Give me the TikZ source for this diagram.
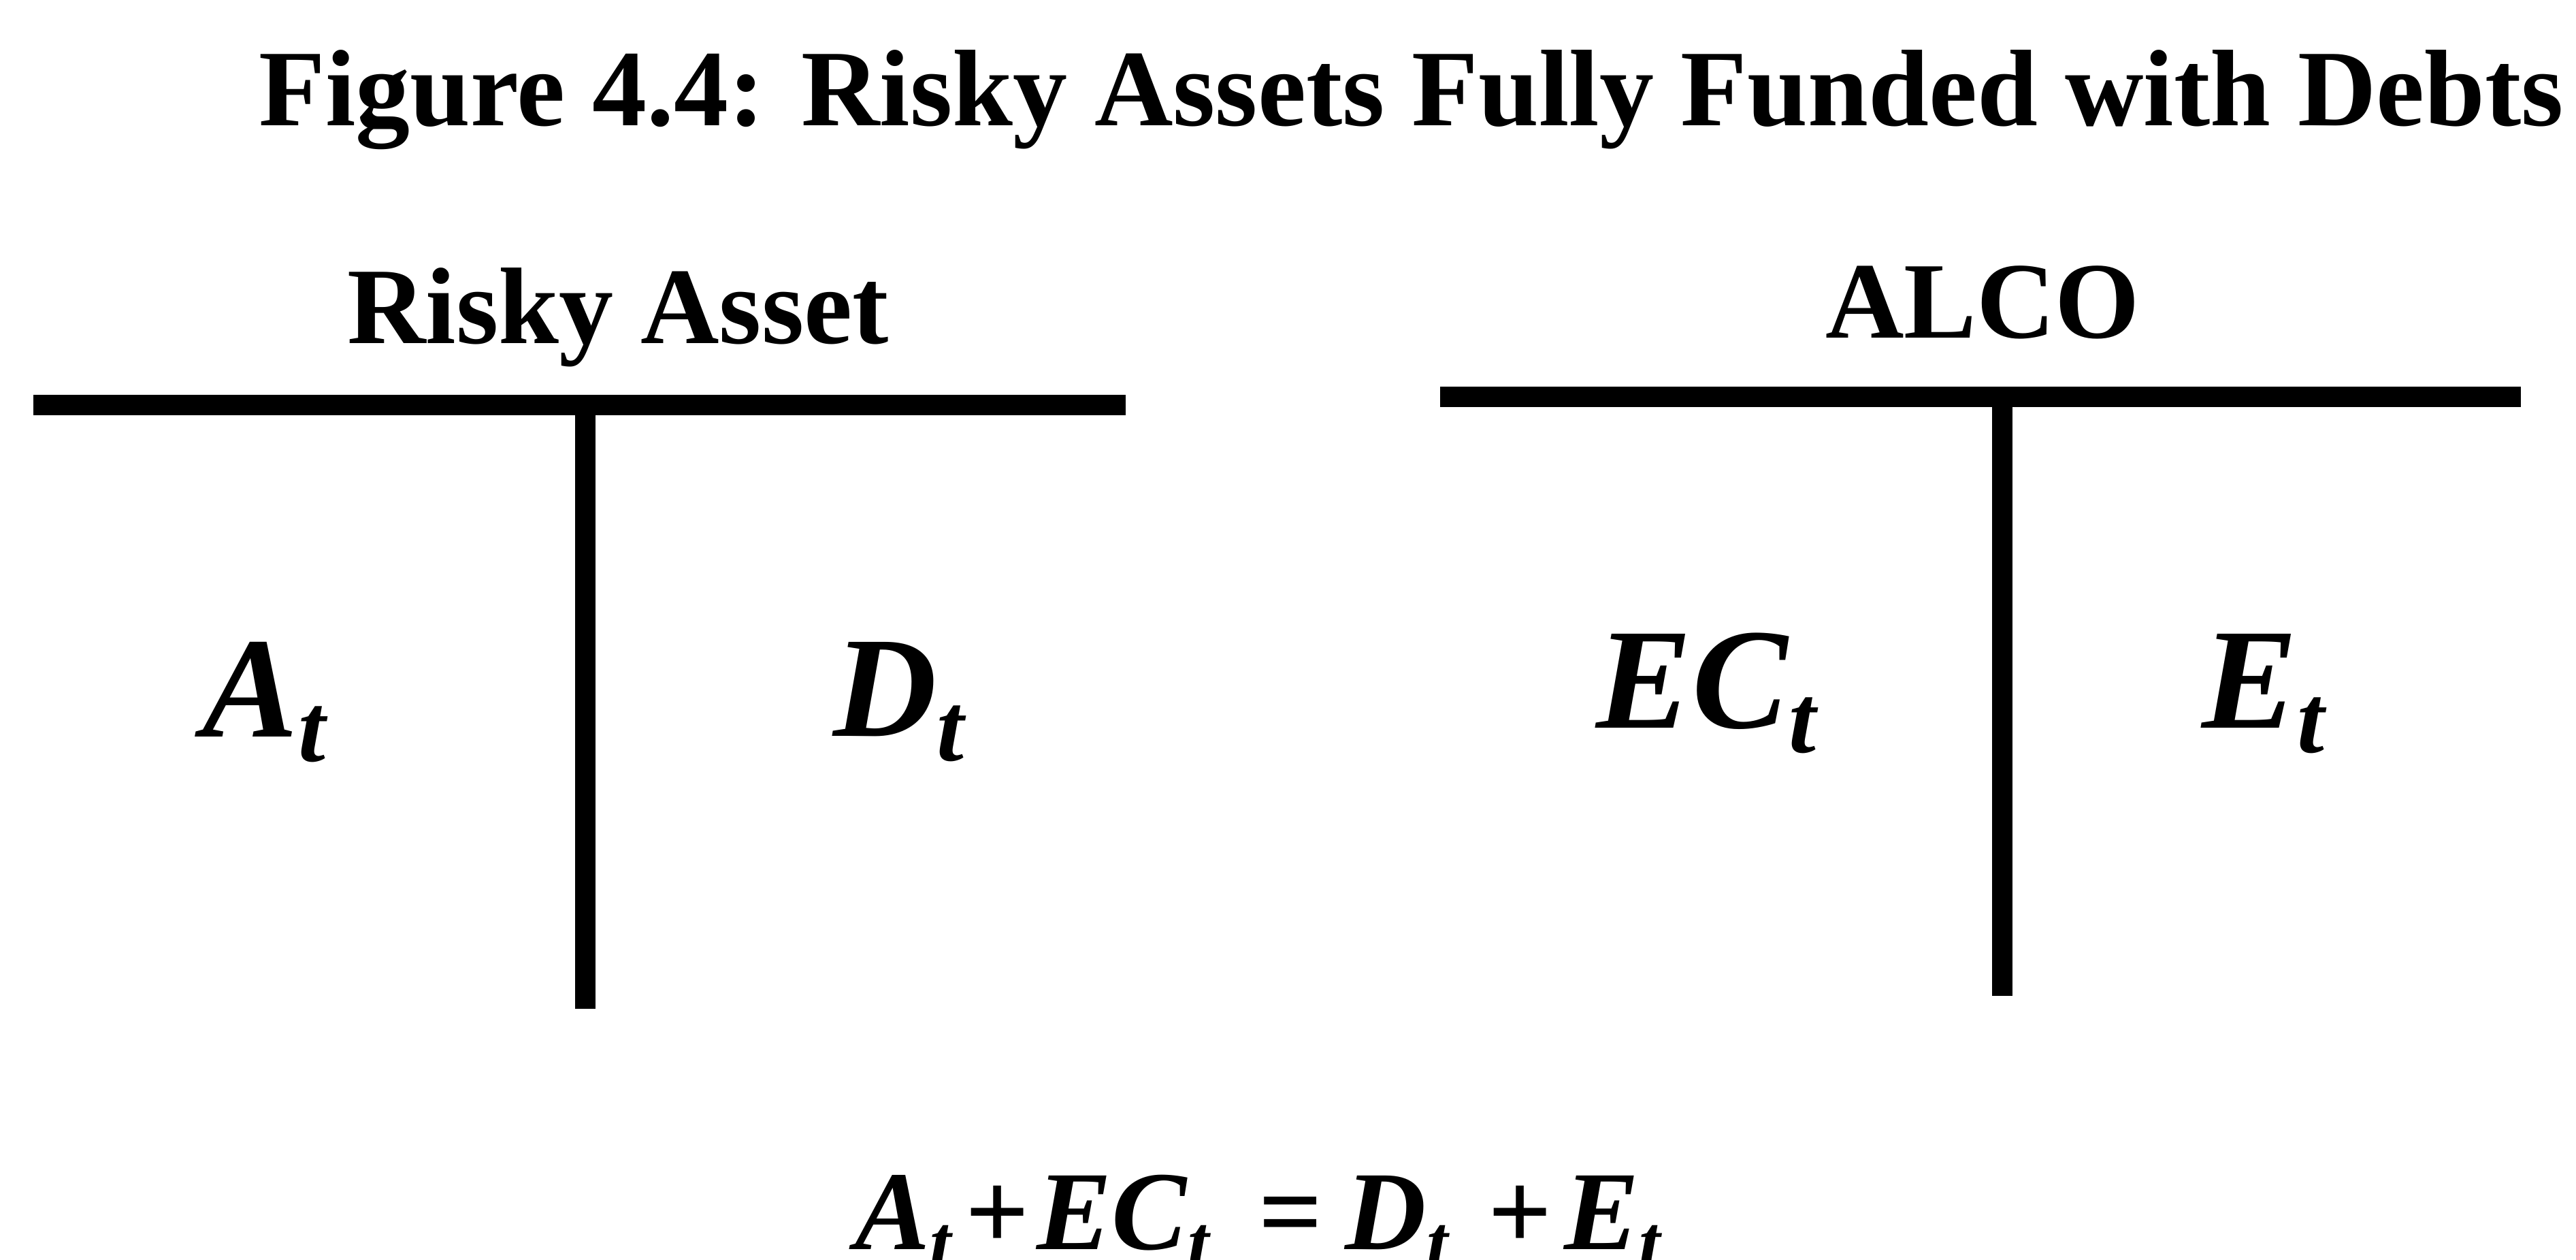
\documentclass[tikz,border=0pt]{standalone}
\usepackage{fontspec}
\usepackage{graphicx}
\setmainfont{Liberation Serif}
\newcommand{\acct}[2]{\textbf{\textit{#1}}\raisebox{-0.17em}{\scalebox{0.68}{\textbf{\textit{#2}}}}}

\begin{document}
\begin{tikzpicture}[
        bar/.style={line width=8.5pt},
        head/.style={anchor=base, inner sep=0pt, font=\fontsize{45.5}{52}\selectfont\bfseries},
        entry/.style={anchor=base, inner sep=0pt, font=\fontsize{60}{68}\selectfont},
        sum/.style={anchor=base west, inner sep=0pt, font=\fontsize{47}{54}\selectfont}
    ]
        \useasboundingbox (0,0) rectangle (37.85,18.5);

        \node[head] (title) at (20.74,16.65) {Figure 4.4: Risky Assets Fully Funded with Debts};
        \node[head] (risky) at (9.08,13.45) {Risky Asset};
        \node[head] (alco) at (29.13,13.53) {ALCO};

        \coordinate (rl) at (0.49,12.55);
        \coordinate (rr) at (16.54,12.55);
        \coordinate (rt) at (8.60,12.55);
        \coordinate (rb) at (8.60,3.68);
        \coordinate (al) at (21.16,12.67);
        \coordinate (ar) at (37.04,12.67);
        \coordinate (at) at (29.42,12.67);
        \coordinate (ab) at (29.42,3.87);

        \draw[bar] (rl) -- (rr);
        \draw[bar] (rt) -- (rb);
        \draw[bar] (al) -- (ar);
        \draw[bar] (at) -- (ab);

        \node[entry] (asset) at (3.90,7.67) {\acct{A}{t}};
        \node[entry] (debt) at (13.22,7.68) {\acct{D}{t}};
        \node[entry] (capital) at (25.09,7.80) {\acct{EC}{t}};
        \node[entry] (equity) at (33.27,7.80) {\acct{E}{t}};

        \node[sum] (balance) at (12.56,0.15) {\acct{A}{t}\hspace{5pt}\textbf{+}\hspace{3pt}\acct{EC}{t}\hspace{20pt}\textbf{=}\hspace{9.5pt}\acct{D}{t}\hspace{16pt}\textbf{+}\hspace{5pt}\acct{E}{t}};
\end{tikzpicture}
\end{document}
